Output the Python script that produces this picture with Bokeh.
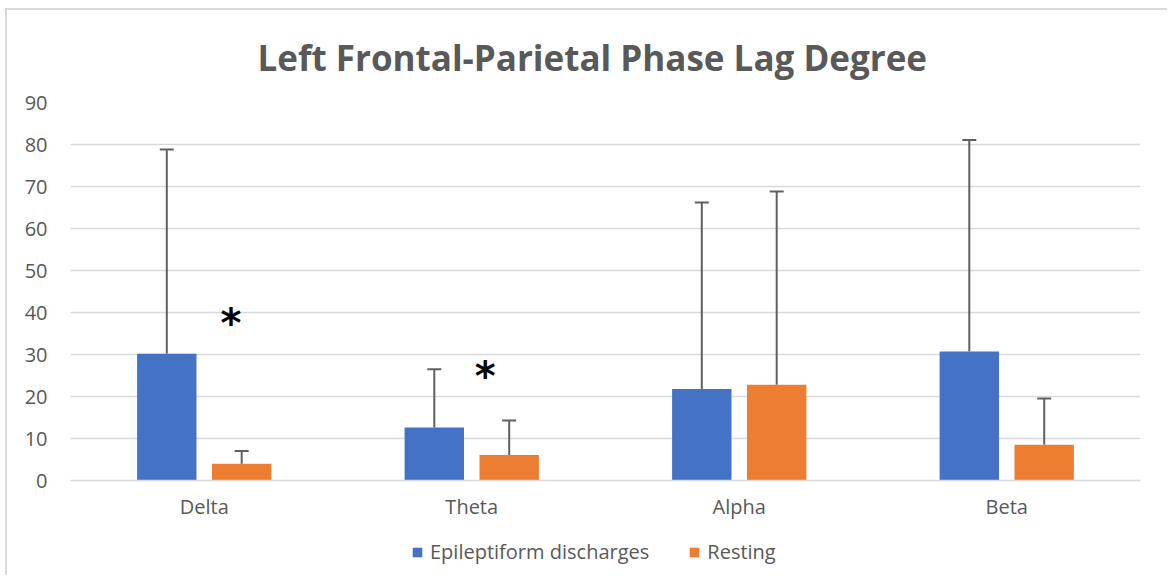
from bokeh.plotting import figure
from bokeh.layouts import column
from bokeh.models import (Range1d, FixedTicker, ColumnDataSource, Whisker, TeeHead,
                          Legend, LegendItem, Title)
from bokeh.core.properties import value
from bokeh.embed import file_html
from bokeh.resources import INLINE

categories = ["Delta", "Theta", "Alpha", "Beta"]
epileptiform = [30.2, 12.6, 21.8, 30.7]
epileptiform_err = [78.8, 26.5, 66.2, 81.1]
resting = [4.0, 6.1, 22.8, 8.5]
resting_err = [7.0, 14.3, 68.8, 19.5]
y_ticks = [0, 10, 20, 30, 40, 50, 60, 70, 80, 90]
series_names = ["Epileptiform discharges", "Resting"]
star_x = [0.60, 1.55]
star_y = [37.6, 25.0]

BLUE = "#4472C4"
ORANGE = "#ED7D31"
GRAY = "#595959"
GRID = "#D9D9D9"
FONT = "Open Sans"
W = 1160

centers = [i + 0.5 for i in range(len(categories))]
offset = 0.14
bar_w = 0.222

p = figure(width=W, height=519, output_backend="svg", toolbar_location=None,
           x_range=Range1d(0, 4), y_range=Range1d(0, 90),
           min_border_left=63, min_border_right=27, min_border_top=88, min_border_bottom=49)
p.outline_line_color = None

p.title = Title(text="Left Frontal-Parietal Phase Lag Degree", align="left",
                text_font=FONT, text_font_size="35px", text_font_style="bold",
                text_color=GRAY, standoff=43, offset=187)

src_e = ColumnDataSource(dict(x=[c - offset for c in centers], top=epileptiform, err=epileptiform_err))
src_r = ColumnDataSource(dict(x=[c + offset for c in centers], top=resting, err=resting_err))

r_e = p.vbar(x="x", top="top", width=bar_w, source=src_e, fill_color=BLUE, line_color=None)
r_r = p.vbar(x="x", top="top", width=bar_w, source=src_r, fill_color=ORANGE, line_color=None)

for src in (src_e, src_r):
    w = Whisker(base="x", lower="top", upper="err", source=src, dimension="height",
                line_color="#606060", line_width=2,
                upper_head=TeeHead(size=14, line_color="#606060", line_width=2),
                lower_head=None)
    p.add_layout(w)

p.text(x=star_x, y=star_y, text=["*"] * len(star_x), text_align="center",
       text_baseline="middle", text_font=value("DejaVu Sans"), text_font_size="40px",
       text_font_style="bold", text_color="black")

p.xaxis.ticker = FixedTicker(ticks=centers)
p.xaxis.major_label_overrides = {c: lab for c, lab in zip(centers, categories)}
p.xaxis.major_tick_line_color = None
p.xaxis.minor_tick_line_color = None
p.xaxis.axis_line_color = GRID
p.xaxis.axis_line_width = 1.5
p.xaxis.major_label_standoff = 6
p.xaxis.major_label_text_font = FONT
p.xaxis.major_label_text_font_size = "20px"
p.xaxis.major_label_text_color = GRAY

p.yaxis.ticker = FixedTicker(ticks=y_ticks)
p.yaxis.major_tick_line_color = None
p.yaxis.minor_tick_line_color = None
p.yaxis.axis_line_color = None
p.yaxis.major_label_standoff = 17
p.yaxis.major_label_text_font = FONT
p.yaxis.major_label_text_font_size = "20px"
p.yaxis.major_label_text_color = GRAY

p.xgrid.grid_line_color = None
p.ygrid.grid_line_color = GRID
p.ygrid.grid_line_width = 1.5

# legend strip below the chart
lg = figure(width=W, height=46, output_backend="svg", toolbar_location=None,
            x_range=Range1d(0, 1), y_range=Range1d(0, 1),
            min_border_left=0, min_border_right=0, min_border_top=0, min_border_bottom=0)
lg.axis.visible = False
lg.grid.visible = False
lg.outline_line_color = None
le = lg.vbar(x=[-5], top=[-5], width=0.1, fill_color=BLUE, line_color=None)
lr = lg.vbar(x=[-5], top=[-5], width=0.1, fill_color=ORANGE, line_color=None)
legend = Legend(items=[LegendItem(label=series_names[0], renderers=[le]),
                       LegendItem(label=series_names[1], renderers=[lr])],
                orientation="horizontal", location=(341, 10),
                label_text_font=FONT, label_text_font_size="20px", label_text_color=GRAY,
                glyph_width=12, glyph_height=12, spacing=39, label_standoff=7,
                border_line_alpha=0, background_fill_alpha=0, padding=0, margin=0)
lg.add_layout(legend, "center")

layout = column(p, lg, spacing=0,
                styles={"border-left": "2px solid #D9D9D9", "border-top": "2px solid #D9D9D9",
                        "margin-left": "5px", "margin-top": "8px"})
open("out.html", "w").write(file_html(layout, INLINE))
